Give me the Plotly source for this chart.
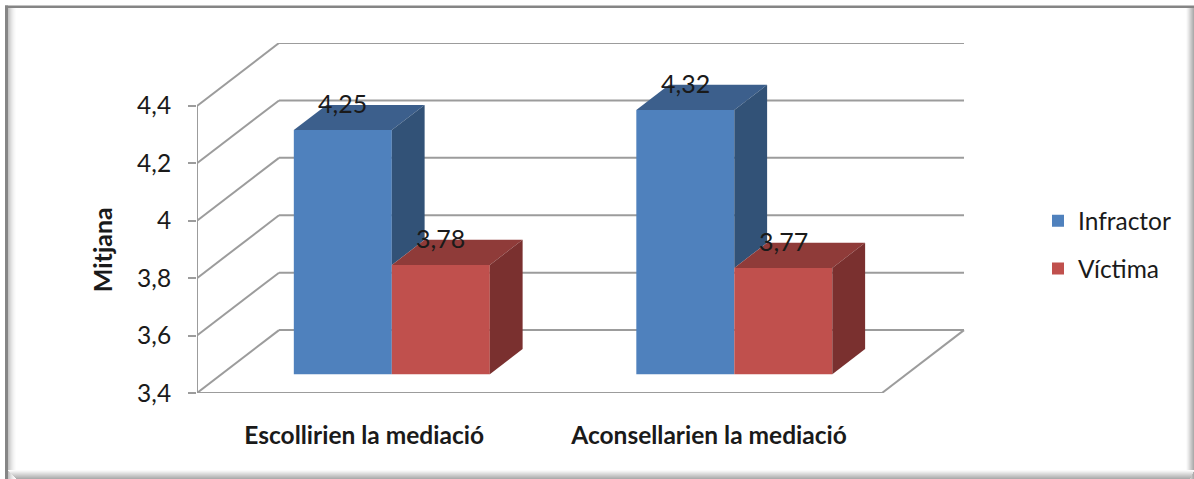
import plotly.graph_objects as go

# ---------- data ----------
categories = ["Escollirien la mediació", "Aconsellarien la mediació"]
infractor = [4.25, 4.32]
victima = [3.78, 3.77]
y_ticks = [3.4, 3.6, 3.8, 4.0, 4.2, 4.4]
y_tick_labels = ["3,4", "3,6", "3,8", "4", "4,2", "4,4"]
series_names = ["Infractor", "Víctima"]
infractor_labels = ["4,25", "4,32"]
victima_labels = ["3,78", "3,77"]
axis_title = "Mitjana"

# ---------- look ----------
W, H = 1194, 479
L, R, T, B = 197, 966, 42.5, 393          # plot rectangle in page pixels
CAT_PX = 342.5                            # pixels per category
VAL_PX = 287.5                            # pixels per value unit
DX = 82 / CAT_PX                          # wall depth in x-axis units
DY = 63 / VAL_PX                          # wall depth in y-axis units
BAR_W = 98 / CAT_PX
Z0, Z1 = 0.30, 0.70                       # depth span of the bars
BASE = y_ticks[0]
FONT = "Lato"
TXT = "#1a1a1a"
GRID = "#9c9c9c"
BLUE, BLUE_TOP, BLUE_SIDE = "#4f81bd", "#3c5f8c", "#325277"
RED, RED_TOP, RED_SIDE = "#c0504d", "#8f3b39", "#7a302f"


def px(x):
    return (x - L) / (R - L)


def py(y):
    return (B - y) / (B - T)


def proj(x, v, z):
    """Oblique projection of (category position, value, depth) to axis units."""
    return x + z * DX, v + z * DY


fig = go.Figure()

# Walls and floor
shapes = []
n = len(categories)
for v in y_ticks:
    x0, y0 = proj(0, v, 0)
    x1, y1 = proj(0, v, 1)
    x2, y2 = proj(n, v, 1)
    shapes.append(dict(type="line", xref="x", yref="y", x0=x0, y0=y0, x1=x1, y1=y1,
                       layer="below", line=dict(color=GRID, width=2)))
    shapes.append(dict(type="line", xref="x", yref="y", x0=x1, y0=y1, x1=x2, y1=y2,
                       layer="below", line=dict(color=GRID, width=2)))
x0, y0 = proj(n, BASE, 0)
x1, y1 = proj(n, BASE, 1)
shapes.append(dict(type="line", xref="x", yref="y", x0=x0, y0=y0, x1=x1, y1=y1,
                   layer="below", line=dict(color=GRID, width=2)))


# Frame of the picture (page decoration)
def strip(x0, y0, x1, y1, color):
    shapes.append(dict(type="rect", xref="paper", yref="paper", x0=px(x0), x1=px(x1),
                       y0=py(y0), y1=py(y1), layer="below", line=dict(width=0),
                       fillcolor=color))


left_ramp = ["#c4c4c4", "#cfcfcf", "#dadada", "#e4e4e4", "#ececec", "#f3f3f3", "#f8f8f8", "#fcfcfc"]
right_ramp = ["#fbfbfb", "#f2f2f2", "#e8e8e8", "#dcdcdc", "#d0d0d0", "#c4c4c4", "#b8b8b8", "#acacac"]
bottom_ramp = ["#fafafa", "#f2f2f2", "#e8e8e8", "#dedede", "#d4d4d4", "#cacaca", "#c0c0c0", "#b6b6b6", "#acacac"]
for i, c in enumerate(left_ramp):
    strip(8 + i, 7, 9 + i, H, c)
for i, c in enumerate(right_ramp):
    strip(W - 8 + i, 7, W - 7 + i, H, c)
for i, c in enumerate(bottom_ramp):
    strip(8 + i, H - 9 + i, W - i // 2, H - 8 + i, c)
strip(5, 5, W, 7.5, "#858585")
strip(5, 5, 8, H, "#858585")


def polygon(points, color):
    xs = [p[0] for p in points] + [points[0][0]]
    ys = [p[1] for p in points] + [points[0][1]]
    fig.add_trace(go.Scatter(x=xs, y=ys, mode="lines", fill="toself", fillcolor=color,
                             line=dict(width=0, color=color), showlegend=False,
                             hoverinfo="skip"))


# Front faces: real bars on the axes
centres = [i + 0.497 for i in range(n)]
front_base = proj(0, BASE, Z0)[1]
for name, vals, off, col in [(series_names[0], infractor, -BAR_W, BLUE),
                             (series_names[1], victima, 0, RED)]:
    fig.add_trace(go.Bar(
        x=[c + Z0 * DX + off for c in centres],
        y=[v - BASE for v in vals],
        base=[front_base] * n,
        width=[BAR_W] * n, offset=0,
        name=name, legendgroup=name,
        marker=dict(color=col, line=dict(width=0)),
    ))

# Visible top and side faces
for c, a, b in zip(centres, infractor, victima):
    left, mid, right = c - BAR_W, c, c + BAR_W
    # blue top
    polygon([proj(left, a, Z0), proj(left, a, Z1), proj(mid, a, Z1), proj(mid, a, Z0)], BLUE_TOP)
    # blue side, only the part above the neighbouring red bar
    polygon([proj(mid, a, Z0), proj(mid, a, Z1), proj(mid, b, Z1), proj(mid, b, Z0)], BLUE_SIDE)
    # red top
    polygon([proj(mid, b, Z0), proj(mid, b, Z1), proj(right, b, Z1), proj(right, b, Z0)], RED_TOP)
    # red side
    polygon([proj(right, b, Z0), proj(right, b, Z1), proj(right, BASE, Z1), proj(right, BASE, Z0)], RED_SIDE)

annotations = []
for c, a, b, ta, tb in zip(centres, infractor, victima, infractor_labels, victima_labels):
    for xc, v, t in [(c - BAR_W / 2, a, ta), (c + BAR_W / 2, b, tb)]:
        xa, ya = proj(xc, v, Z0)
        annotations.append(dict(x=xa, y=ya, xref="x", yref="y", text=t, showarrow=False,
                                yshift=27, font=dict(family=FONT, size=25, color=TXT)))
annotations.append(dict(x=px(102), y=py(250), xref="paper", yref="paper", text=axis_title,
                        textangle=-90, showarrow=False, xanchor="center", yanchor="middle",
                        font=dict(family=FONT, size=25, color=TXT, weight="bold")))

fig.update_layout(
    width=W, height=H, autosize=False,
    margin=dict(l=L, r=W - R, t=T, b=H - B, pad=0),
    paper_bgcolor="white", plot_bgcolor="rgba(0,0,0,0)",
    barmode="overlay", shapes=shapes, annotations=annotations,
    font=dict(family=FONT, color=TXT),
    legend=dict(x=px(1038), y=py(198), xanchor="left", yanchor="top",
                font=dict(family=FONT, size=24.5, color=TXT),
                tracegroupgap=13, bgcolor="rgba(0,0,0,0)", traceorder="grouped"),
    xaxis=dict(range=[0, (R - L) / CAT_PX], tickmode="array",
               tickvals=[0.488, 1.495], ticktext=categories,
               ticks="outside", ticklen=21, tickcolor="rgba(0,0,0,0)",
               showgrid=False, zeroline=False, showline=False,
               tickfont=dict(family=FONT, size=24.5, color=TXT, weight="bold")),
    yaxis=dict(range=[BASE, BASE + (B - T) / VAL_PX], tickmode="array",
               tickvals=y_ticks, ticktext=y_tick_labels,
               ticks="outside", ticklen=8, tickwidth=2, tickcolor=GRID,
               ticklabelstandoff=12,
               showgrid=False, zeroline=False, showline=False,
               tickfont=dict(family=FONT, size=24.5, color=TXT)),
)

# Front wall vertical and front floor edge
fig.add_shape(type="line", xref="x", yref="y", x0=0, x1=0, y0=y_ticks[0], y1=y_ticks[-1],
              layer="below", line=dict(color=GRID, width=2))
fig.add_shape(type="line", xref="x", yref="y", x0=0, x1=n, y0=BASE, y1=BASE,
              layer="below", line=dict(color=GRID, width=2))

fig.write_html("out.html", config=dict(displayModeBar=False),
               post_script="document.body.style.margin='0';")
